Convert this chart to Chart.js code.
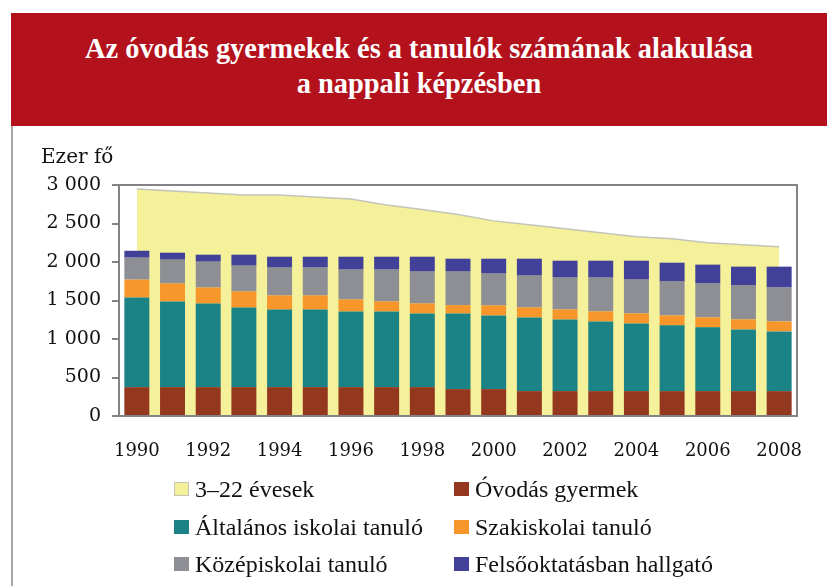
<!DOCTYPE html>
<html lang="hu">
<head>
    <meta charset="UTF-8">
    <title>Az óvodás gyermekek és a tanulók számának alakulása</title>
    <script src="https://cdn.jsdelivr.net/npm/chart.js"></script>
    <style>
        html, body { margin: 0; padding: 0; background: #fff; overflow: hidden; }
        body { width: 827px; height: 586px; position: relative; }
        #header {
            position: absolute; left: 11px; top: 13px; width: 816px; height: 113px;
            background: #b3121d; color: #fff; text-align: center;
            font-family: "Liberation Serif", serif; font-weight: bold; font-size: 28.4px;
            line-height: 35px; box-sizing: border-box; padding-top: 18px;
        }
        #frame { position: absolute; left: 11px; top: 126px; width: 2px; height: 460px; background: #a6a6a6; }
        #unit {
            position: absolute; left: 41px; top: 146px; font-family: "DejaVu Serif", serif;
            font-size: 20px; line-height: 20px; color: #111;
        }
        #myChart { position: absolute; left: 0; top: 0; }
        .item {
            position: absolute; height: 24px; line-height: 24px; white-space: nowrap;
            font-family: "Liberation Serif", serif; font-size: 24px; color: #111;
        }
        .item .box { position: absolute; left: 0; top: 5px; width: 15px; height: 14px; box-sizing: border-box; }
        .item span { position: absolute; left: 21px; top: 0; }
    </style>
</head>
<body>
    <canvas id="myChart" width="827" height="586"></canvas>
    <div id="header">Az óvodás gyermekek és a tanulók számának alakulása<br>a nappali képzésben</div>
    <div id="frame"></div>
    <div id="unit">Ezer fő</div>
    <div id="legend"></div>

    <script>
        // years on the category axis, only every second one is labelled
        const years = ['1990','1991','1992','1993','1994','1995','1996','1997','1998','1999',
                       '2000','2001','2002','2003','2004','2005','2006','2007','2008'];
        const yearLabels = ['1990','1992','1994','1996','1998','2000','2002','2004','2006','2008'];
        const yTicks = [0, 500, 1000, 1500, 2000, 2500, 3000];

        // thousand persons
        const age3to22 = [2948, 2922, 2896, 2870, 2870, 2845, 2819, 2741, 2681, 2616,
                          2534, 2483, 2431, 2379, 2327, 2302, 2250, 2224, 2198];
        const ovodas = [375, 375, 375, 375, 375, 375, 375, 375, 375, 349,
                        349, 323, 323, 323, 323, 323, 323, 323, 323];
        const altalanos = [1164, 1112, 1086, 1034, 1008, 1008, 983, 983, 957, 983,
                           957, 957, 931, 905, 879, 854, 828, 802, 776];
        const szakiskolai = [232, 233, 207, 207, 182, 182, 155, 129, 129, 108,
                             129, 129, 129, 130, 130, 129, 129, 129, 129];
        const kozepiskolai = [285, 310, 336, 336, 362, 362, 388, 414, 414, 435,
                              414, 414, 414, 439, 439, 440, 440, 440, 440];
        const felsooktatas = [90, 91, 91, 143, 142, 142, 168, 168, 194, 168,
                              194, 220, 220, 220, 246, 245, 246, 246, 272];

        const axisGray = '#828287';

        function bar(label, data, color) {
            return { type: 'bar', label: label, data: data, backgroundColor: color,
                     stack: 'edu', order: 0, barPercentage: 0.7, categoryPercentage: 1.0 };
        }

        const datasets = [
            { type: 'line', label: '3\u201322 évesek', data: age3to22, stack: 'pop', order: 1,
              fill: 'origin', backgroundColor: '#f5f19b', borderColor: '#c4c4b8',
              borderWidth: 1.5, pointRadius: 0, tension: 0 },
            bar('Óvodás gyermek', ovodas, '#94371f'),
            bar('Általános iskolai tanuló', altalanos, '#1b8385'),
            bar('Szakiskolai tanuló', szakiskolai, '#f7962b'),
            bar('Középiskolai tanuló', kozepiskolai, '#8e8f94'),
            bar('Felsőoktatásban hallgató', felsooktatas, '#414199')
        ];

        // box round the plot area
        const frameBox = {
            id: 'frameBox',
            afterDatasetsDraw(chart) {
                const a = chart.chartArea, ctx = chart.ctx;
                ctx.save();
                ctx.strokeStyle = axisGray;
                ctx.lineWidth = 2;
                ctx.strokeRect(a.left, a.top, a.right - a.left, a.bottom - a.top);
                ctx.restore();
            }
        };

        const ctx = document.getElementById('myChart').getContext('2d');
        const myChart = new Chart(ctx, {
            data: { labels: years, datasets: datasets },
            plugins: [frameBox],
            options: {
                responsive: false,
                animation: false,
                layout: { padding: { top: 185, right: 30, left: 0, bottom: 0 } },
                plugins: { legend: { display: false }, tooltip: { enabled: false } },
                scales: {
                    x: {
                        stacked: true,
                        offset: true,
                        grid: { display: false },
                        border: { display: false },
                        afterFit: scale => { scale.height = 170; },
                        ticks: {
                            autoSkip: false, maxRotation: 0, padding: 17, color: '#111',
                            font: { family: 'DejaVu Serif', size: 18 },
                            callback: function (value) {
                                const y = this.getLabelForValue(value);
                                return yearLabels.includes(y) ? y : '';
                            }
                        }
                    },
                    y: {
                        stacked: true,
                        min: 0, max: 3000,
                        afterFit: scale => { scale.width = 119; },
                        afterBuildTicks: scale => { scale.ticks = yTicks.map(v => ({ value: v })); },
                        grid: { drawOnChartArea: false, drawTicks: true, tickLength: 7,
                                color: axisGray, lineWidth: 2 },
                        border: { display: false },
                        ticks: {
                            padding: 11, color: '#111',
                            font: { family: 'DejaVu Serif', size: 19 },
                            callback: v => String(v).replace(/\B(?=(\d{3})+(?!\d))/g, ' ')
                        }
                    }
                }
            }
        });

        // two column legend below the chart, built from the datasets
        const legendPos = [[174, 477], [454, 477], [174, 515], [454, 515], [174, 552], [454, 552]];
        const legend = document.getElementById('legend');
        datasets.forEach((ds, i) => {
            const item = document.createElement('div');
            item.className = 'item';
            item.style.left = legendPos[i][0] + 'px';
            item.style.top = legendPos[i][1] + 'px';
            const box = document.createElement('div');
            box.className = 'box';
            box.style.background = ds.backgroundColor;
            if (ds.type === 'line') box.style.border = '1px solid #c4c4b8';
            const text = document.createElement('span');
            text.textContent = ds.label;
            item.appendChild(box);
            item.appendChild(text);
            legend.appendChild(item);
        });
    </script>
</body>
</html>
